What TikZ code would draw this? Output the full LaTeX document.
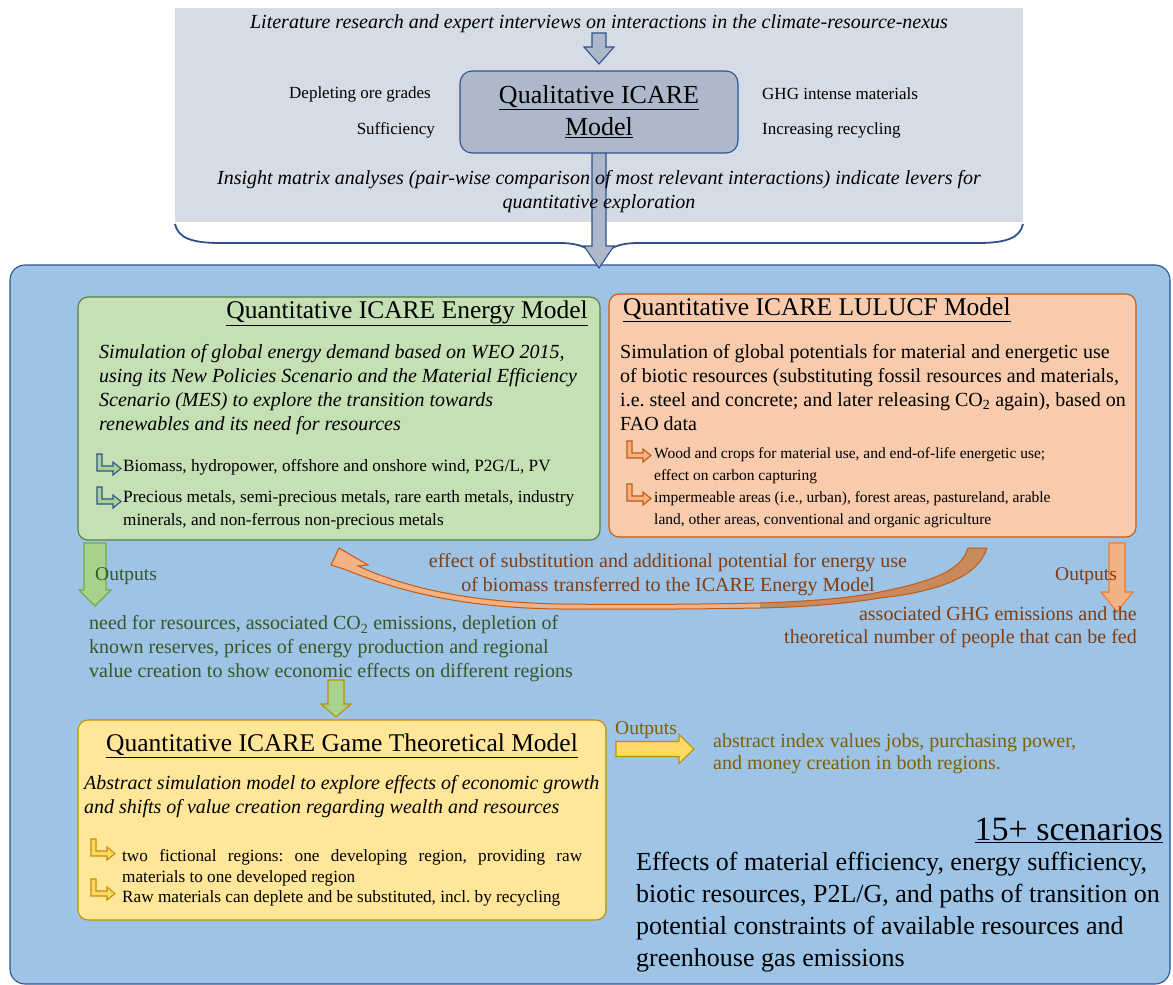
\documentclass[tikz,border=0pt]{standalone}
\usepackage{fontspec}
\setmainfont{Liberation Serif}
\usetikzlibrary{positioning}

\definecolor{topgray}{HTML}{D6DCE5}
\definecolor{qualfill}{HTML}{ADB9CA}
\definecolor{navy}{HTML}{2F528F}
\definecolor{bigblue}{HTML}{9DC3E6}
\definecolor{enfill}{HTML}{C5E0B4}
\definecolor{endraw}{HTML}{548235}
\definecolor{lufill}{HTML}{F8CBAD}
\definecolor{ludraw}{HTML}{C55A11}
\definecolor{gafill}{HTML}{FFE699}
\definecolor{gadraw}{HTML}{BF9000}
\definecolor{grarrow}{HTML}{A9D18E}
\definecolor{grline}{HTML}{70AD47}
\definecolor{orarrow}{HTML}{F4B183}
\definecolor{orline}{HTML}{ED7D31}
\definecolor{ordark}{HTML}{C8895C}
\definecolor{yearrow}{HTML}{FFD966}
\definecolor{gtext}{HTML}{385723}
\definecolor{otext}{HTML}{843C0C}
\definecolor{ytext}{HTML}{7F6000}

% block arrow pointing down: style, x, top, tip, shaft half, head half, head length
\newcommand\dnarrow[7]{%
  \draw[#1] ({#2-#5},#3) -- ({#2+#5},#3) -- ({#2+#5},{#4-#7}) -- ({#2+#6},{#4-#7})
    -- (#2,#4) -- ({#2-#6},{#4-#7}) -- ({#2-#5},{#4-#7}) -- cycle;}
% block arrow pointing right: style, y, left, tip, shaft half, head half, head length
\newcommand\rtarrow[7]{%
  \draw[#1] (#3,{#2-#5}) -- ({#4-#7},{#2-#5}) -- ({#4-#7},{#2-#6}) -- (#4,#2)
    -- ({#4-#7},{#2+#6}) -- ({#4-#7},{#2+#5}) -- (#3,{#2+#5}) -- cycle;}
% small bent bullet arrow, top left corner at x, y
\newcommand\bentarr[3]{%
  \draw[#3] (#1,#2) -- ++(5,0) -- ++(0,12) -- ++(11,0) -- ++(0,-4) -- ++(8,6.5)
    -- ++(-8,6.5) -- ++(0,-4) -- ++(-16,0) -- cycle;}

\begin{document}
\frenchspacing
\begin{tikzpicture}[x=1pt,y=-1pt,
  box/.style={draw,rounded corners=10pt,line width=1.1pt,inner sep=0pt},
  txt/.style={inner sep=0pt,align=left},
  qarrow/.style={fill=qualfill,draw=navy,line width=1.1pt},
  garrow/.style={fill=grarrow,draw=grline,line width=1.1pt},
  sarrow/.style={fill=grarrow,draw=gadraw,line width=1.1pt},
  oarrow/.style={fill=orarrow,draw=orline,line width=1.1pt},
  yarrow/.style={fill=yearrow,draw=gadraw,line width=1.1pt},
  enbul/.style={fill=grarrow,draw=navy,line width=1.1pt},
  lubul/.style={fill=orarrow,draw=ludraw,line width=1.1pt},
  gabul/.style={fill=yearrow,draw=gadraw,line width=1.1pt}]
\useasboundingbox (0,0) rectangle (1173,985);

% backgrounds
\node[fill=topgray,inner sep=0pt,minimum width=848,minimum height=214] (top) at (599,115) {};
\node[box,fill=bigblue,draw=navy,rounded corners=15pt,minimum width=1160,minimum height=719] (big) at (590,624.5) {};
\draw[navy,line width=1.8pt] (175,224) .. controls (178,238) and (192,243) .. (220,243) -- (560,243)
  .. controls (585,243) and (596,252) .. (599,265) .. controls (602,252) and (613,243) .. (638,243)
  -- (978,243) .. controls (1006,243) and (1020,238) .. (1023,224);

% qualitative part
\dnarrow{qarrow}{599}{33}{64}{7}{15}{17}
\dnarrow{qarrow}{599}{150}{268}{7}{15}{22}
\node[box,fill=qualfill,draw=navy,rounded corners=12pt,minimum width=278,minimum height=82,align=center,
  font=\fontsize{26}{32}\selectfont] (qual) at (599,112) {\underline{Qualitative ICARE}\\\underline{Model}};
\node[txt,font=\itshape\fontsize{20}{24}\selectfont] (lit) at (599,24)
  {Literature research and expert interviews on interactions in the climate-resource-nexus};
\node[txt,anchor=east,font=\fontsize{17}{20}\selectfont] (ore) at (431,94) {Depleting ore grades};
\node[txt,anchor=east,font=\fontsize{17}{20}\selectfont] (suff) at (435,130) {Sufficiency};
\node[txt,anchor=west,font=\fontsize{17}{20}\selectfont] (ghg) at (762,94) {GHG intense materials};
\node[txt,anchor=west,font=\fontsize{17}{20}\selectfont] (recy) at (762,130) {Increasing recycling};
\node[txt,align=center,font=\itshape\fontsize{20}{24}\selectfont] (insight) at (599,192)
  {Insight matrix analyses (pair-wise comparison of most relevant interactions) indicate levers for\\quantitative exploration};

% energy model
\node[box,fill=enfill,draw=endraw,minimum width=522,minimum height=243] (energy) at (339,418.5) {};
\node[txt,anchor=east,font=\fontsize{25.5}{30}\selectfont] (entitle) at (588,313) {\underline{Quantitative ICARE Energy Model}};
\node[txt,anchor=north west,font=\itshape\fontsize{20}{24}\selectfont] (entext) at (99,344.5)
  {Simulation of global energy demand based on WEO 2015,\\using its New Policies Scenario and the Material Efficiency\\Scenario (MES) to explore the transition towards\\renewables and its need for resources};
\bentarr{97}{454}{enbul}
\bentarr{97}{487}{enbul}
\node[txt,anchor=west,font=\fontsize{17.2}{23}\selectfont] (enbio) at (123,467)
  {Biomass, hydropower, offshore and onshore wind, P2G/L, PV};
\node[txt,anchor=north west,font=\fontsize{17.2}{23}\selectfont] (enmet) at (123,490.6)
  {Precious metals, semi-precious metals, rare earth metals, industry\\minerals, and non-ferrous non-precious metals};

% lulucf model
\node[box,fill=lufill,draw=ludraw,minimum width=527,minimum height=243] (lulucf) at (872.5,415.5) {};
\node[txt,anchor=west,font=\fontsize{25.5}{30}\selectfont] (lutitle) at (623,310) {\underline{Quantitative ICARE LULUCF Model}};
\node[txt,anchor=north west,font=\fontsize{20}{24}\selectfont] (lutext) at (620,344.5)
  {Simulation of global potentials for material and energetic use\\of biotic resources (substituting fossil resources and materials,\\i.e. steel and concrete; and later releasing CO\textsubscript{2} again), based on\\FAO data};
\bentarr{627}{441}{lubul}
\bentarr{627}{484}{lubul}
\node[txt,anchor=north west,font=\fontsize{15.5}{22}\selectfont] (luwood) at (654,447.3)
  {Wood and crops for material use, and end-of-life energetic use;\\effect on carbon capturing};
\node[txt,anchor=north west,font=\fontsize{15.5}{22}\selectfont] (luarea) at (654,491.3)
  {impermeable areas (i.e., urban), forest areas, pastureland, arable\\land, other areas, conventional and organic agriculture};

% game theoretical model
\node[box,fill=gafill,draw=gadraw,minimum width=528,minimum height=200] (game) at (342,820) {};
\node[txt,font=\fontsize{25.5}{30}\selectfont] (gatitle) at (342,746) {\underline{Quantitative ICARE Game Theoretical Model}};
\node[txt,anchor=north west,font=\itshape\fontsize{20}{24}\selectfont] (gatext) at (84,775.5)
  {Abstract simulation model to explore effects of economic growth\\and shifts of value creation regarding wealth and resources};
\bentarr{91}{839}{gabul}
\bentarr{91}{879}{gabul}
\node[txt,anchor=north west,text width=460,align=justify,font=\fontsize{17.2}{20.5}\selectfont] (gareg) at (122,849.6)
  {two fictional regions: one developing region, providing raw\linebreak materials to one developed region\newline
   Raw materials can deplete and be substituted, incl. by recycling};

% outputs
\dnarrow{garrow}{95}{543}{606}{11}{16}{16}
\node[txt,anchor=west,text=gtext,font=\fontsize{19.5}{22}\selectfont] (enout) at (95,576) {Outputs};
\node[txt,anchor=north west,text=gtext,font=\fontsize{20}{24}\selectfont] (enres) at (89,615.6)
  {need for resources, associated CO\textsubscript{2} emissions, depletion of\\known reserves, prices of energy production and regional\\value creation to show economic effects on different regions};
\dnarrow{sarrow}{336}{680}{717}{8}{15}{13}

\dnarrow{oarrow}{1117}{543}{612}{8}{16}{20}
\node[txt,anchor=west,text=otext,font=\fontsize{19.5}{22}\selectfont] (luout) at (1055,576) {Outputs};
\node[txt,anchor=north east,align=right,text=otext,font=\fontsize{20}{23}\selectfont] (lures) at (1137,606.6)
  {associated GHG emissions and the\\theoretical number of people that can be fed};

% transfer from lulucf to energy model
\node[txt,align=center,text=otext,font=\fontsize{20}{24}\selectfont] (transfer) at (668,575)
  {effect of substitution and additional potential for energy use\\of biomass transferred to the ICARE Energy Model};
\fill[orarrow] (339,548) -- (368,565) -- (358,566) .. controls (400,585) and (460,602) .. (560,604)
  .. controls (650,605) and (710,604) .. (760,603) -- (760,608) .. controls (700,609) and (640,609.5) .. (560,609)
  .. controls (460,608) and (395,590) .. (344,569) -- (331,565) -- cycle;
\fill[ordark] (760,603) .. controls (820,601) and (855,597) .. (880,592) .. controls (940,580) and (962,568) .. (968,548)
  -- (987,548) .. controls (978,578) and (935,592) .. (880,598) .. controls (850,603) and (810,607) .. (760,608) -- cycle;
\draw[ludraw,line width=1pt] (339,548) -- (368,565) -- (358,566) .. controls (400,585) and (460,602) .. (560,604)
  .. controls (650,605) and (710,604) .. (760,603) .. controls (820,601) and (855,597) .. (880,592)
  .. controls (940,580) and (962,568) .. (968,548) -- (987,548) .. controls (978,578) and (935,592) .. (880,598)
  .. controls (850,603) and (810,607) .. (760,608) .. controls (700,609) and (640,609.5) .. (560,609)
  .. controls (460,608) and (395,590) .. (344,569) -- (331,565) -- cycle;

\rtarrow{yarrow}{749}{616}{694}{7.5}{14.5}{15}
\node[txt,anchor=west,text=ytext,font=\fontsize{19.5}{22}\selectfont] (gaout) at (615,730) {Outputs};
\node[txt,anchor=north west,text=ytext,font=\fontsize{20}{22}\selectfont] (gares) at (713,733.6)
  {abstract index values jobs, purchasing power,\\and money creation in both regions.};

% scenarios
\node[txt,anchor=east,font=\fontsize{34}{38}\selectfont] (scen) at (1163,830) {\underline{15+ scenarios}};
\node[txt,anchor=north west,font=\fontsize{26}{32}\selectfont] (effects) at (636,852)
  {Effects of material efficiency, energy sufficiency,\\biotic resources, P2L/G, and paths of transition on\\potential constraints of available resources and\\greenhouse gas emissions};
\end{tikzpicture}
\end{document}
